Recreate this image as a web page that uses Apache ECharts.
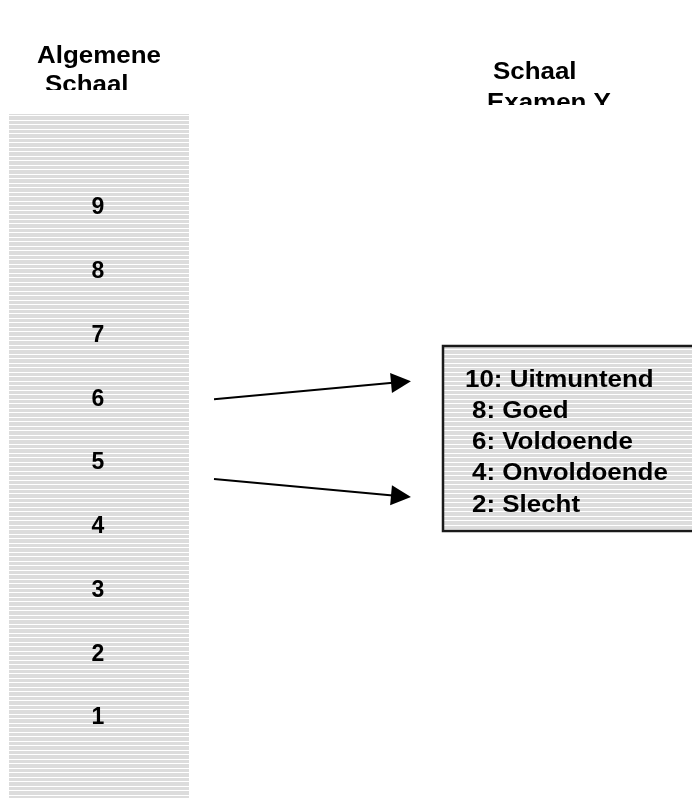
<!DOCTYPE html>
<html>
<head>
<meta charset="utf-8">
<script src="https://cdn.jsdelivr.net/npm/echarts@6/dist/echarts.min.js"></script>
<style>
  html, body { margin: 0; padding: 0; background: #fff; }
  #chart { width: 692px; height: 798px; }
</style>
</head>
<body>
<div id="chart"></div>
<script>
// algemene schaal (links) en de schaal van examen Y (rechts)
var scaleValues = [9, 8, 7, 6, 5, 4, 3, 2, 1];
var examLabels = ['10: Uitmuntend', '8: Goed', '6: Voldoende', '4: Onvoldoende', '2: Slecht'];
var titleLeft = ['Algemene', 'Schaal'];
var titleRight = ['Schaal', 'Examen Y'];
// pijlen: begin op de algemene schaal, eind (zelfde eenheid)
var arrowFrom = [6.00, 4.75];
var arrowTo = [6.27, 4.48];

var FONT = 'bold 24px "Liberation Sans", Arial, sans-serif';

function stripes() {
  var c = document.createElement('canvas');
  c.width = 8; c.height = 9;
  var ctx = c.getContext('2d');
  ctx.fillStyle = '#dcdcdc';
  ctx.fillRect(0, 0, 8, 9);
  ctx.fillStyle = '#ffffff';
  ctx.fillRect(0, 3, 8, 1);
  ctx.fillRect(0, 7, 8, 1);
  return c;
}
var pattern = { image: stripes(), repeat: 'repeat' };

function txt(s, x, y, z) {
  return {
    type: 'text', x: x, y: y, scaleX: 1.08, z: z || 10,
    style: {
      text: s, x: 0, y: 0, font: FONT, fill: '#000',
      textAlign: 'left', textVerticalAlign: 'middle',
      align: 'left', verticalAlign: 'middle'
    }
  };
}

var graphics = [
  // kolom
  { type: 'rect', z: 0, shape: { x: 9, y: 114, width: 180, height: 690 }, style: { fill: pattern } },
  // kader rechts
  { type: 'rect', z: 0, shape: { x: 443, y: 346, width: 260, height: 185 },
    style: { fill: pattern, stroke: '#1a1a1a', lineWidth: 2.5 } },
  txt(titleLeft[0], 37, 56),
  txt(titleLeft[1], 45, 85),
  txt(titleRight[0], 493, 72),
  txt(titleRight[1], 487, 103),
  // afgesneden titels
  { type: 'rect', z: 20, shape: { x: 0, y: 90, width: 220, height: 23 }, style: { fill: '#fff' } },
  { type: 'rect', z: 20, shape: { x: 430, y: 105, width: 262, height: 30 }, style: { fill: '#fff' } }
];
var examY = [380, 411, 442, 473, 505];
examLabels.forEach(function (s, i) {
  graphics.push(txt(s, i === 0 ? 465 : 472, examY[i]));
});

var chart = echarts.init(document.getElementById('chart'));
chart.setOption({
  animation: false,
  backgroundColor: '#fff',
  grid: { left: 0, right: 0, top: 0, bottom: 0 },
  xAxis: { type: 'value', min: 0, max: 692, show: false },
  yAxis: { type: 'value', min: -0.255, max: 12.263, show: false },
  graphic: graphics,
  series: [
    {
      type: 'scatter',
      z: 5,
      symbolSize: 0,
      itemStyle: { opacity: 1 },
      data: scaleValues.map(function (v) { return [98, v]; }),
      label: {
        show: true, position: 'inside',
        formatter: function (p) { return p.value[1]; },
        color: '#000', fontSize: 23, fontWeight: 'bold', opacity: 1,
        fontFamily: '"Liberation Sans", Arial, sans-serif'
      }
    },
    {
      type: 'lines',
      coordinateSystem: 'cartesian2d',
      z: 6,
      symbol: ['none', 'triangle'],
      symbolSize: 20,
      lineStyle: { color: '#000', width: 2, opacity: 1, curveness: 0 },
      data: arrowFrom.map(function (v, i) {
        return { coords: [[214, v], [401, arrowTo[i]]] };
      })
    }
  ]
});
</script>
</body>
</html>
